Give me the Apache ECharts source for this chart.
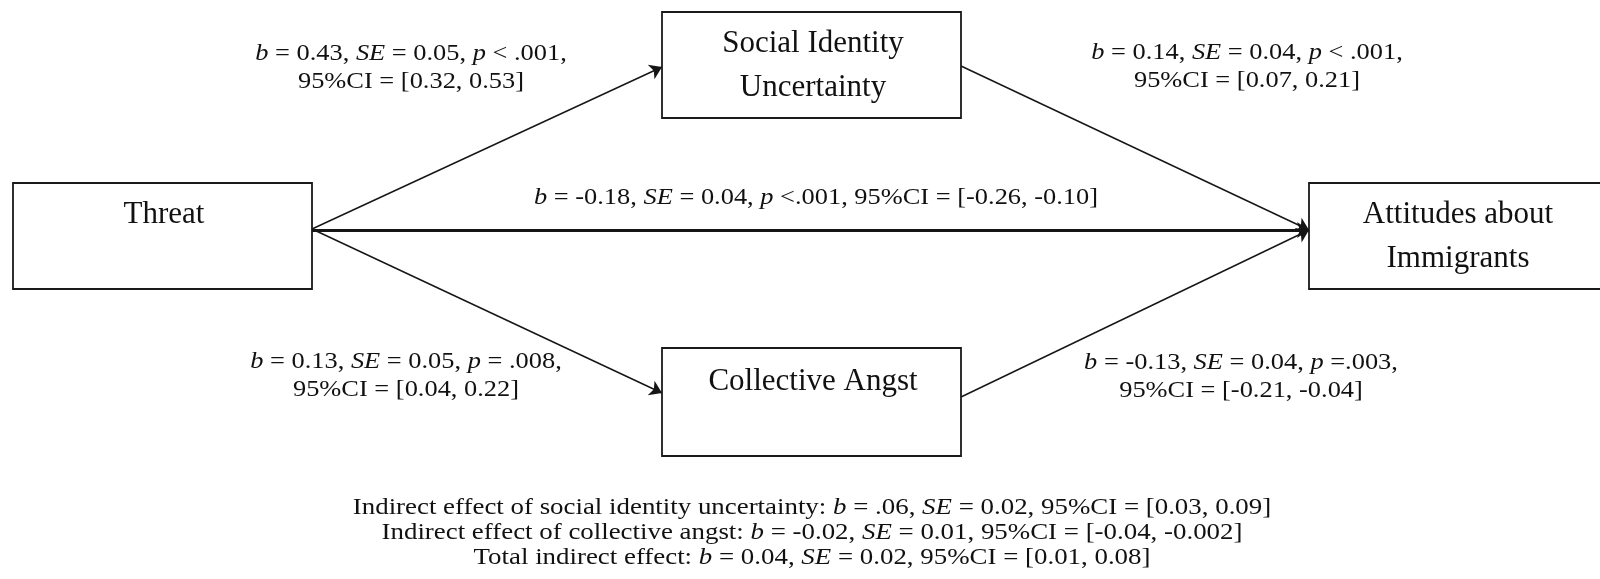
<!DOCTYPE html>
<html>
<head>
<meta charset="utf-8">
<script src="https://cdn.jsdelivr.net/npm/echarts@6/dist/echarts.min.js"></script>
<style>html,body{margin:0;padding:0;background:#fff}#c{width:1600px;height:579px}</style>
</head>
<body>
<div id="c"></div>
<script>
// Nodes: name, box [x0, y0, x1, y1] in diagram units, label lines
const nodeNames = ['Threat', 'Social Identity Uncertainty', 'Collective Angst', 'Attitudes about Immigrants'];
const nodeLabels = ['Threat', 'Social Identity\nUncertainty', 'Collective Angst', 'Attitudes about\nImmigrants'];
const nodeBoxes = [[13, 183, 312, 289], [662, 12, 961, 118], [662, 348, 961, 456], [1309, 183, 1608, 289]];
const nodeLabelPos = [[164, 215], [813, 66], [813, 382], [1458, 237]];

// Paths: from -> to, in diagram units
const edgeFrom = [[312, 229], [312, 229], [312, 230], [961, 66], [961, 397]];
const edgeTo = [[662, 67], [662, 393], [1309, 230], [1309, 230], [1309, 230]];
const edgeWidth = [1.4, 1.4, 2.8, 1.4, 1.4];

// Path coefficients
const edgeLabels = [
  '{i|b} = 0.43, {i|SE} = 0.05, {i|p} < .001,\n95%CI = [0.32, 0.53]',
  '{i|b} = 0.14, {i|SE} = 0.04, {i|p} < .001,\n95%CI = [0.07, 0.21]',
  '{i|b} = -0.18, {i|SE} = 0.04, {i|p} <.001, 95%CI = [-0.26, -0.10]',
  '{i|b} = 0.13, {i|SE} = 0.05, {i|p} = .008,\n95%CI = [0.04, 0.22]',
  '{i|b} = -0.13, {i|SE} = 0.04, {i|p} =.003,\n95%CI = [-0.21, -0.04]'
];
const edgeLabelPos = [[411, 68], [1247, 67], [816, 198], [406, 376], [1241, 377]];

const footerLines = [
  'Indirect effect of social identity uncertainty: {i|b} = .06, {i|SE} = 0.02, 95%CI = [0.03, 0.09]',
  'Indirect effect of collective angst: {i|b} = -0.02, {i|SE} = 0.01, 95%CI = [-0.04, -0.002]',
  'Total indirect effect: {i|b} = 0.04, {i|SE} = 0.02, 95%CI = [0.01, 0.08]'
];
const footerPos = [[812, 508], [812, 533], [812, 558]];

const FONT = '"Liberation Serif", "Times New Roman", serif';
const chart = echarts.init(document.getElementById('c'), null, {renderer: 'canvas'});

const textItems = [];
edgeLabels.forEach((t, i) => textItems.push({value: edgeLabelPos[i], text: t, size: 24, lh: 28, sx: 1.1}));
footerLines.forEach((t, i) => textItems.push({value: footerPos[i], text: t, size: 24, lh: 25, sx: 1.12}));

chart.setOption({
  animation: false,
  backgroundColor: '#fff',
  grid: {left: 0, right: 0, top: 0, bottom: 0},
  xAxis: {type: 'value', min: 0, max: 1600, show: false},
  yAxis: {type: 'value', min: 0, max: 579, inverse: true, show: false},
  series: [
    {
      type: 'lines',
      coordinateSystem: 'cartesian2d',
      z: 1,
      symbol: ['none', 'arrow'],
      symbolSize: 12,
      lineStyle: {color: '#151515', opacity: 1},
      data: edgeFrom.map((f, i) => ({coords: [f, edgeTo[i]], lineStyle: {width: edgeWidth[i]}}))
    },
    {
      type: 'custom',
      coordinateSystem: 'cartesian2d',
      z: 2,
      data: nodeBoxes.map((b, i) => ({value: [b[0], b[1], b[2], b[3], nodeLabelPos[i][0], nodeLabelPos[i][1]], name: nodeNames[i]})),
      renderItem: function (params, api) {
        const i = params.dataIndex;
        const p1 = api.coord([api.value(0), api.value(1)]);
        const p2 = api.coord([api.value(2), api.value(3)]);
        const lp = api.coord([api.value(4), api.value(5)]);
        return {
          type: 'group',
          children: [
            {type: 'rect', shape: {x: p1[0], y: p1[1], width: p2[0] - p1[0], height: p2[1] - p1[1]},
             style: {fill: '#fff', stroke: '#1a1a1a', lineWidth: 1.8}},
            {type: 'text', style: {text: nodeLabels[i], x: lp[0], y: lp[1], align: 'center', verticalAlign: 'middle',
             fontFamily: FONT, fontSize: 31, lineHeight: 44, fill: '#111'}}
          ]
        };
      }
    },
    {
      type: 'custom',
      coordinateSystem: 'cartesian2d',
      z: 3,
      data: textItems.map(t => ({value: t.value})),
      renderItem: function (params, api) {
        const t = textItems[params.dataIndex];
        const p = api.coord([api.value(0), api.value(1)]);
        return {
          type: 'text',
          x: p[0], y: p[1], scaleX: t.sx,
          style: {
            text: t.text, x: 0, y: 0, align: 'center', verticalAlign: 'middle',
            fontFamily: FONT, fontSize: t.size, lineHeight: t.lh, fill: '#111',
            rich: {i: {fontStyle: 'italic', fontFamily: FONT, fontSize: t.size, lineHeight: t.lh, fill: '#111'}}
          }
        };
      }
    }
  ]
});
</script>
</body>
</html>
